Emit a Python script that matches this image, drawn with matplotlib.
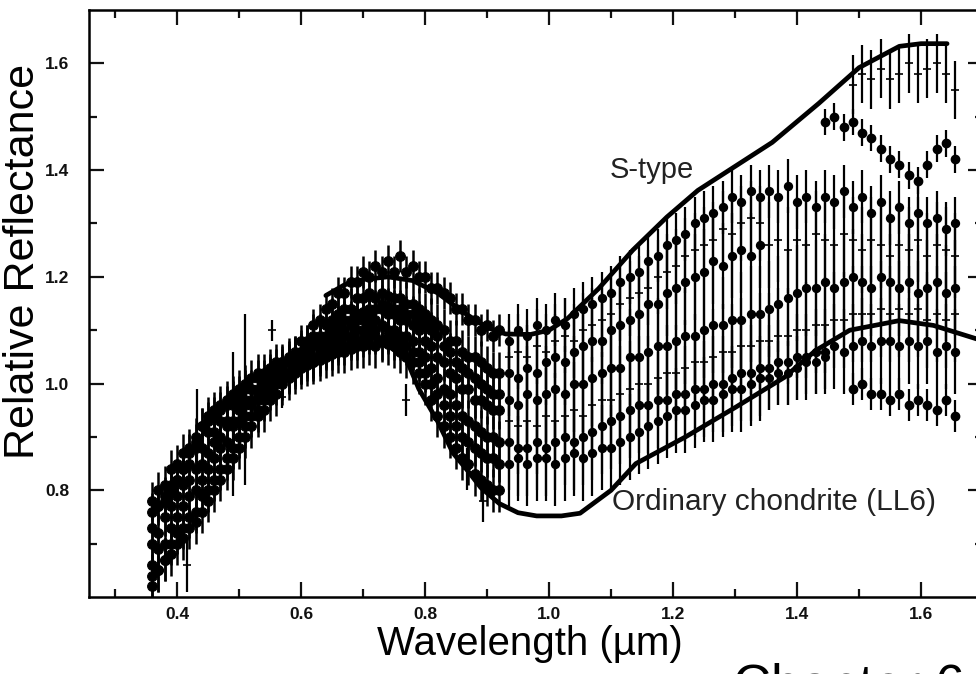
import matplotlib
matplotlib.use('Agg')
import matplotlib.pyplot as plt
from matplotlib.ticker import MultipleLocator, FormatStrFormatter

plt.rcParams['font.family'] = ['Liberation Sans', 'DejaVu Sans']

# Model / meteorite reference curves
stype_w = [0.64, 0.67, 0.70, 0.74, 0.78, 0.82, 0.86, 0.90, 0.93, 0.97, 1.00, 1.03,
           1.08, 1.135, 1.19, 1.24, 1.30, 1.36, 1.435, 1.50, 1.565, 1.60, 1.642]
stype_r = [1.165, 1.185, 1.195, 1.200, 1.193, 1.17, 1.135, 1.105, 1.093, 1.092, 1.10, 1.122,
           1.178, 1.25, 1.312, 1.362, 1.407, 1.452, 1.525, 1.592, 1.632, 1.637, 1.637]

ll6_w = [0.62, 0.66, 0.70, 0.74, 0.77, 0.79, 0.82, 0.845, 0.87, 0.89, 0.92, 0.95, 0.98,
         1.02, 1.05, 1.10, 1.14, 1.22, 1.30, 1.38, 1.43, 1.485, 1.565, 1.62, 1.70]
ll6_r = [1.045, 1.063, 1.072, 1.072, 1.045, 0.99, 0.93, 0.87, 0.835, 0.805, 0.775, 0.758, 0.752,
         0.752, 0.757, 0.80, 0.85, 0.90, 0.955, 1.012, 1.062, 1.10, 1.118, 1.109, 1.08]

# Visible spectra (0.36 - 0.92 um)
vis_w = [0.36, 0.37, 0.38, 0.39, 0.40, 0.41, 0.42, 0.43, 0.44, 0.45, 0.46, 0.47, 0.48, 0.49,
         0.50, 0.51, 0.52, 0.53, 0.54, 0.55, 0.56, 0.57, 0.58, 0.59, 0.60, 0.61, 0.62, 0.63,
         0.64, 0.65, 0.66, 0.67, 0.68, 0.69, 0.70, 0.71, 0.72, 0.73, 0.74, 0.75, 0.76, 0.77,
         0.78, 0.79, 0.80, 0.81, 0.82, 0.83, 0.84, 0.85, 0.86, 0.87, 0.88, 0.89, 0.90, 0.91, 0.92]
vis_a = [0.73, 0.77, 0.78, 0.81, 0.82, 0.84, 0.85, 0.88, 0.88, 0.91, 0.91, 0.93, 0.93, 0.96,
         0.96, 0.97, 0.99, 0.99, 1.00, 1.02, 1.02, 1.04, 1.04, 1.06, 1.08, 1.08, 1.11, 1.12,
         1.14, 1.15, 1.17, 1.17, 1.19, 1.19, 1.21, 1.20, 1.22, 1.21, 1.23, 1.21, 1.24, 1.21,
         1.22, 1.20, 1.20, 1.18, 1.18, 1.17, 1.16, 1.14, 1.14, 1.12, 1.12, 1.10, 1.11, 1.09, 1.10]
vis_b = [0.66, 0.69, 0.70, 0.73, 0.75, 0.77, 0.79, 0.80, 0.82, 0.84, 0.86, 0.88, 0.89, 0.92,
         0.93, 0.94, 0.96, 0.97, 0.98, 1.00, 1.01, 1.02, 1.04, 1.05, 1.06, 1.07, 1.09, 1.09,
         1.11, 1.12, 1.13, 1.14, 1.14, 1.16, 1.16, 1.17, 1.16, 1.17, 1.165, 1.16, 1.16, 1.15,
         1.15, 1.14, 1.13, 1.12, 1.11, 1.10, 1.08, 1.08, 1.06, 1.05, 1.05, 1.04, 1.03, 1.02, 1.02]
vis_c = [0.78, 0.80, 0.81, 0.84, 0.85, 0.87, 0.88, 0.90, 0.92, 0.93, 0.94, 0.95, 0.96, 0.97,
         0.98, 0.99, 0.99, 1.01, 1.01, 1.02, 1.03, 1.03, 1.04, 1.05, 1.05, 1.06, 1.07, 1.07,
         1.08, 1.09, 1.10, 1.10, 1.11, 1.12, 1.12, 1.13, 1.12, 1.14, 1.13, 1.13, 1.12, 1.12,
         1.11, 1.10, 1.08, 1.07, 1.05, 1.04, 1.02, 1.01, 0.99, 0.99, 0.97, 0.97, 0.96, 0.95, 0.95]
vis_d = [0.62, 0.65, 0.67, 0.70, 0.72, 0.73, 0.75, 0.76, 0.79, 0.80, 0.82, 0.84, 0.86, 0.88,
         0.90, 0.92, 0.94, 0.95, 0.97, 0.99, 1.00, 1.01, 1.02, 1.03, 1.04, 1.05, 1.05, 1.06,
         1.07, 1.08, 1.08, 1.09, 1.09, 1.10, 1.10, 1.11, 1.10, 1.11, 1.10, 1.10, 1.09, 1.09,
         1.08, 1.06, 1.05, 1.03, 1.01, 0.99, 0.98, 0.96, 0.94, 0.93, 0.92, 0.91, 0.90, 0.90, 0.89]
vis_e = [0.70, 0.72, 0.75, 0.77, 0.79, 0.81, 0.82, 0.84, 0.85, 0.87, 0.89, 0.90, 0.92, 0.93,
         0.95, 0.96, 0.97, 0.98, 0.99, 1.00, 1.01, 1.01, 1.02, 1.03, 1.035, 1.04, 1.04, 1.05,
         1.06, 1.06, 1.07, 1.07, 1.08, 1.08, 1.085, 1.09, 1.09, 1.08, 1.09, 1.08, 1.08, 1.07,
         1.06, 1.04, 1.02, 1.00, 0.98, 0.96, 0.94, 0.92, 0.90, 0.89, 0.88, 0.87, 0.86, 0.86, 0.85]
vis_f = [0.64, 0.65, 0.67, 0.68, 0.70, 0.71, 0.73, 0.74, 0.76, 0.78, 0.80, 0.82, 0.84, 0.86,
         0.88, 0.90, 0.92, 0.94, 0.95, 0.97, 0.98, 1.00, 1.01, 1.02, 1.03, 1.035, 1.04, 1.045,
         1.05, 1.055, 1.06, 1.06, 1.065, 1.07, 1.07, 1.075, 1.07, 1.08, 1.075, 1.07, 1.06, 1.05,
         1.04, 1.02, 1.00, 0.97, 0.94, 0.92, 0.90, 0.88, 0.86, 0.85, 0.83, 0.82, 0.81, 0.80, 0.80]
vis_g = [0.76, 0.77, 0.79, 0.80, 0.82, 0.84, 0.87, 0.89, 0.92, 0.94, 0.95, 0.96, 0.97, 0.98,
         0.99, 1.00, 1.01, 1.02, 1.02, 1.03, 1.04, 1.04, 1.05, 1.05, 1.06, 1.07, 1.08, 1.08,
         1.09, 1.10, 1.11, 1.12, 1.12, 1.13, 1.135, 1.14, 1.14, 1.15, 1.145, 1.14, 1.14, 1.13,
         1.13, 1.12, 1.11, 1.10, 1.09, 1.07, 1.06, 1.04, 1.03, 1.02, 1.01, 1.00, 0.99, 0.98, 0.98]
vis_err = [0.03, 0.04, 0.035, 0.04, 0.035, 0.04, 0.035]

# Isolated noisy visible points
odd_w = [0.416, 0.432, 0.49, 0.51, 0.553, 0.57, 0.77, 0.868, 0.894]
odd_r = [0.66, 0.895, 0.925, 0.97, 1.10, 0.975, 0.97, 0.84, 0.78]
odd_e = [0.05, 0.095, 0.135, 0.16, 0.02, 0.02, 0.03, 0.04, 0.04]

# Near-infrared spectra, short segment (0.935 - 1.34 um)
nir_w = [0.935, 0.95, 0.965, 0.98, 0.995, 1.01, 1.025, 1.04, 1.055, 1.07, 1.085, 1.10, 1.115, 1.13,
         1.145, 1.16, 1.175, 1.19, 1.205, 1.22, 1.235, 1.25, 1.265, 1.28, 1.295, 1.31, 1.325, 1.34]
nir_a = [1.08, 1.10, 1.09, 1.11, 1.10, 1.12, 1.11, 1.13, 1.14, 1.15, 1.16, 1.17, 1.19, 1.20,
         1.21, 1.23, 1.24, 1.26, 1.27, 1.28, 1.30, 1.31, 1.32, 1.33, 1.35, 1.34, 1.36, 1.35]
nir_g = [1.05, 1.06, 1.05, 1.07, 1.06, 1.08, 1.09, 1.08, 1.10, 1.11, 1.12, 1.13, 1.15, 1.16,
         1.17, 1.18, 1.20, 1.21, 1.22, 1.24, 1.25, 1.26, 1.27, 1.29, 1.28, 1.30, 1.31, 1.30]
nir_b = [1.02, 1.01, 1.03, 1.02, 1.04, 1.05, 1.04, 1.06, 1.07, 1.08, 1.08, 1.10, 1.11, 1.12,
         1.13, 1.15, 1.15, 1.17, 1.18, 1.19, 1.20, 1.21, 1.23, 1.22, 1.24, 1.25, 1.24, 1.26]
nir_c = [0.97, 0.96, 0.98, 0.97, 0.98, 0.99, 0.98, 1.00, 1.00, 1.01, 1.02, 1.03, 1.03, 1.05,
         1.05, 1.06, 1.07, 1.07, 1.08, 1.09, 1.09, 1.10, 1.11, 1.11, 1.12, 1.12, 1.13, 1.13]
nir_d = [0.93, 0.92, 0.93, 0.92, 0.94, 0.93, 0.94, 0.95, 0.94, 0.96, 0.97, 0.97, 0.98, 0.99,
         1.00, 1.00, 1.01, 1.02, 1.02, 1.03, 1.04, 1.04, 1.05, 1.06, 1.06, 1.07, 1.07, 1.08]
nir_e = [0.89, 0.88, 0.88, 0.89, 0.88, 0.89, 0.90, 0.89, 0.90, 0.91, 0.92, 0.93, 0.94, 0.95,
         0.96, 0.96, 0.97, 0.97, 0.98, 0.98, 0.99, 0.99, 1.00, 1.00, 1.01, 1.02, 1.02, 1.03]
nir_f = [0.85, 0.86, 0.85, 0.86, 0.86, 0.85, 0.86, 0.87, 0.86, 0.87, 0.88, 0.88, 0.89, 0.90,
         0.91, 0.92, 0.93, 0.94, 0.95, 0.95, 0.96, 0.97, 0.97, 0.98, 0.99, 0.99, 1.00, 1.01]
nir_err = [0.05, 0.07, 0.08, 0.09, 0.09, 0.09, 0.08]

# Near-infrared spectra, long segment (1.355 - 1.655 um)
h_w = [1.355, 1.37, 1.385, 1.40, 1.415, 1.43, 1.445, 1.46, 1.475, 1.49, 1.505,
       1.52, 1.535, 1.55, 1.565, 1.58, 1.595, 1.61, 1.625, 1.64, 1.655]
h_a = [1.36, 1.35, 1.37, 1.34, 1.35, 1.33, 1.35, 1.34, 1.36, 1.33, 1.35,
       1.32, 1.34, 1.31, 1.33, 1.30, 1.32, 1.30, 1.31, 1.29, 1.30]
h_b = [1.26, 1.27, 1.25, 1.27, 1.26, 1.28, 1.27, 1.26, 1.28, 1.27, 1.25,
       1.27, 1.26, 1.24, 1.26, 1.25, 1.27, 1.24, 1.26, 1.25, 1.24]
h_c = [1.14, 1.15, 1.16, 1.17, 1.18, 1.18, 1.19, 1.18, 1.19, 1.20, 1.19,
       1.18, 1.20, 1.19, 1.18, 1.19, 1.17, 1.18, 1.19, 1.17, 1.18]
h_d = [1.08, 1.09, 1.09, 1.10, 1.10, 1.11, 1.11, 1.12, 1.12, 1.13, 1.13,
       1.13, 1.14, 1.13, 1.14, 1.13, 1.14, 1.12, 1.13, 1.12, 1.13]
h_e = [1.03, 1.04, 1.04, 1.05, 1.05, 1.06, 1.06, 1.07, 1.06, 1.07, 1.08,
       1.07, 1.08, 1.08, 1.07, 1.08, 1.07, 1.08, 1.06, 1.07, 1.06]
h_err = [0.05, 0.08, 0.09, 0.09, 0.08]

h_short_w = [1.355, 1.37, 1.385, 1.40, 1.415, 1.43, 1.445]
h_short = [1.01, 1.02, 1.02, 1.03, 1.04, 1.04, 1.05]

h_mid_w = [1.445, 1.46, 1.475, 1.49, 1.505, 1.52, 1.535, 1.55, 1.565, 1.58, 1.595, 1.61, 1.625, 1.64, 1.655]
h_mid = [1.49, 1.50, 1.48, 1.49, 1.47, 1.46, 1.44, 1.42, 1.41, 1.39, 1.38, 1.41, 1.44, 1.45, 1.42]

h_end_w = [1.49, 1.505, 1.52, 1.535, 1.55, 1.565, 1.58, 1.595, 1.61, 1.625, 1.64, 1.655]
h_top = [1.56, 1.58, 1.57, 1.59, 1.57, 1.58, 1.60, 1.58, 1.59, 1.60, 1.58, 1.55]
h_low = [0.99, 1.00, 0.98, 0.98, 0.97, 0.98, 0.96, 0.97, 0.96, 0.95, 0.97, 0.94]

fig = plt.figure(figsize=(9.76, 6.74), dpi=100)
ax = fig.add_axes([0.0912, 0.1142, 0.916, 0.8709])

dot = dict(color='black', ecolor='black', capsize=0, linestyle='none', zorder=2)

for spec, err in zip([vis_a, vis_b, vis_c, vis_d, vis_e, vis_f, vis_g], vis_err):
    ax.errorbar(vis_w, spec, yerr=err, marker='o', ms=7, mew=0.8, elinewidth=1.8, **dot)
ax.errorbar(odd_w, odd_r, yerr=odd_e, marker='+', ms=6, mew=1.2, elinewidth=1.6, **dot)

for spec, err, mk in zip([nir_a, nir_g, nir_b, nir_c, nir_d, nir_e, nir_f], nir_err,
                         ['o', '+', 'o', 'o', '+', 'o', 'o']):
    ax.errorbar(nir_w, spec, yerr=err, marker=mk, ms=5.5, mew=1.2, elinewidth=1.6, **dot)

for spec, err, mk in zip([h_a, h_b, h_c, h_d, h_e], h_err, ['o', '+', 'o', '+', 'o']):
    ax.errorbar(h_w, spec, yerr=err, marker=mk, ms=5.5, mew=1.2, elinewidth=1.6, **dot)
ax.errorbar(h_short_w, h_short, yerr=0.06, marker='o', ms=5.5, elinewidth=1.6, **dot)
ax.errorbar(h_mid_w, h_mid, yerr=0.025, marker='o', ms=6, elinewidth=1.6, **dot)
ax.errorbar(h_end_w, h_top, yerr=0.055, marker='+', ms=6, mew=1.2, elinewidth=1.6, **dot)
ax.errorbar(h_end_w, h_low, yerr=0.03, marker='o', ms=6, elinewidth=1.6, **dot)

ax.plot(stype_w, stype_r, color='black', lw=3.4, solid_capstyle='round', zorder=4)
ax.plot(ll6_w, ll6_r, color='black', lw=3.4, solid_capstyle='round', zorder=4)

ax.text(1.098, 1.40, 'S-type', fontsize=21, ha='left', va='center', color='#222222')
ax.text(1.102, 0.778, 'Ordinary chondrite (LL6)', fontsize=21.5, ha='left', va='center',
        color='#222222')

ax.set_xlim(0.258, 1.70)
ax.set_ylim(0.6, 1.7)
ax.xaxis.set_major_locator(MultipleLocator(0.2))
ax.xaxis.set_minor_locator(MultipleLocator(0.1))
ax.set_yticks([0.8, 1.0, 1.2, 1.4, 1.6])
ax.set_yticks([0.7, 0.9, 1.1, 1.3, 1.5], minor=True)
ax.xaxis.set_major_formatter(FormatStrFormatter('%.1f'))
ax.yaxis.set_major_formatter(FormatStrFormatter('%.1f'))

ax.tick_params(which='both', direction='in', top=True, right=True, width=1.6, labelsize=12.5,
               colors='#111111')
ax.tick_params(which='major', length=11)
ax.tick_params(which='minor', length=6)
ax.tick_params(axis='x', pad=7)
ax.tick_params(axis='y', pad=14)
for lab in ax.get_xticklabels() + ax.get_yticklabels():
    lab.set_fontweight('bold')
for sp in ax.spines.values():
    sp.set_linewidth(1.8)

ax.set_xlabel('Wavelength (\u00b5m)', fontsize=29)
ax.set_ylabel('Relative Reflectance', fontsize=31)
ax.xaxis.set_label_coords(0.493, -0.048)
ax.yaxis.set_label_coords(-0.051, 0.571)

fig.text(733 / 976, 1 - 663 / 674, 'Chapter 6', fontsize=38, ha='left', va='top')

fig.savefig('out.png', dpi=100)
